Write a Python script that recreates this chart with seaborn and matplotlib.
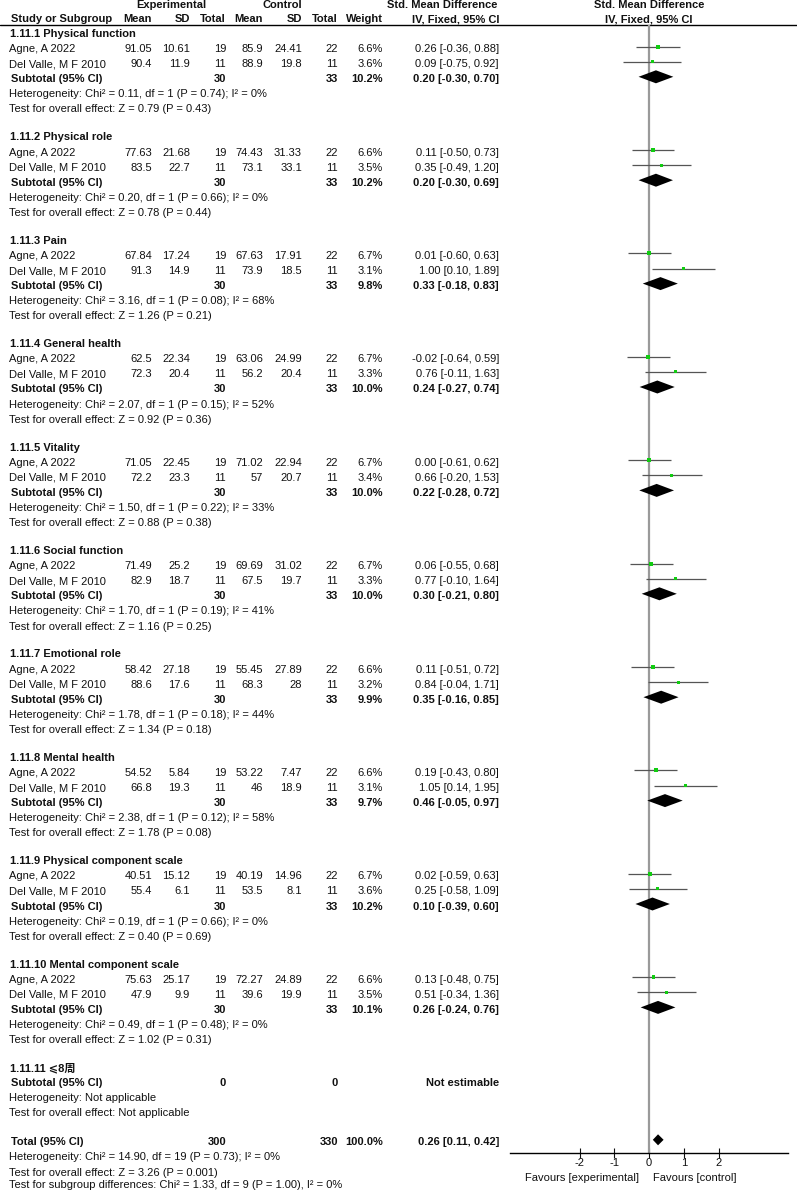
import matplotlib
matplotlib.use("Agg")
import matplotlib.pyplot as plt
import seaborn as sns
import pandas as pd
import numpy as np

# ---------------- data ----------------
sections = ["1.11.1 Physical function", "1.11.2 Physical role", "1.11.3 Pain",
            "1.11.4 General health", "1.11.5 Vitality", "1.11.6 Social function",
            "1.11.7 Emotional role", "1.11.8 Mental health",
            "1.11.9 Physical component scale", "1.11.10 Mental component scale"]
studies = ["Agne, A 2022", "Del Valle, M F 2010"]

exp_mean = [91.05, 90.4, 77.63, 83.5, 67.84, 91.3, 62.5, 72.3, 71.05, 72.2,
            71.49, 82.9, 58.42, 88.6, 54.52, 66.8, 40.51, 55.4, 75.63, 47.9]
exp_sd = [10.61, 11.9, 21.68, 22.7, 17.24, 14.9, 22.34, 20.4, 22.45, 23.3,
          25.2, 18.7, 27.18, 17.6, 5.84, 19.3, 15.12, 6.1, 25.17, 9.9]
exp_n = [19, 11] * 10
ctrl_mean = [85.9, 88.9, 74.43, 73.1, 67.63, 73.9, 63.06, 56.2, 71.02, 57,
             69.69, 67.5, 55.45, 68.3, 53.22, 46, 40.19, 53.5, 72.27, 39.6]
ctrl_sd = [24.41, 19.8, 31.33, 33.1, 17.91, 18.5, 24.99, 20.4, 22.94, 20.7,
           31.02, 19.7, 27.89, 28, 7.47, 18.9, 14.96, 8.1, 24.89, 19.9]
ctrl_n = [22, 11] * 10
weight = [6.6, 3.6, 6.6, 3.5, 6.7, 3.1, 6.7, 3.3, 6.7, 3.4,
          6.7, 3.3, 6.6, 3.2, 6.6, 3.1, 6.7, 3.6, 6.6, 3.5]
smd = [0.26, 0.09, 0.11, 0.35, 0.01, 1.00, -0.02, 0.76, 0.00, 0.66,
       0.06, 0.77, 0.11, 0.84, 0.19, 1.05, 0.02, 0.25, 0.13, 0.51]
ci_lo = [-0.36, -0.75, -0.50, -0.49, -0.60, 0.10, -0.64, -0.11, -0.61, -0.20,
         -0.55, -0.10, -0.51, -0.04, -0.43, 0.14, -0.59, -0.58, -0.48, -0.34]
ci_hi = [0.88, 0.92, 0.73, 1.20, 0.63, 1.89, 0.59, 1.63, 0.62, 1.53,
         0.68, 1.64, 0.72, 1.71, 0.80, 1.95, 0.63, 1.09, 0.75, 1.36]

sub_n_exp = [30] * 10
sub_n_ctrl = [33] * 10
sub_weight = [10.2, 10.2, 9.8, 10.0, 10.0, 10.0, 9.9, 9.7, 10.2, 10.1]
sub_smd = [0.20, 0.20, 0.33, 0.24, 0.22, 0.30, 0.35, 0.46, 0.10, 0.26]
sub_lo = [-0.30, -0.30, -0.18, -0.27, -0.28, -0.21, -0.16, -0.05, -0.39, -0.24]
sub_hi = [0.70, 0.69, 0.83, 0.74, 0.72, 0.80, 0.85, 0.97, 0.60, 0.76]
het_chi = [0.11, 0.20, 3.16, 2.07, 1.50, 1.70, 1.78, 2.38, 0.19, 0.49]
het_p = [0.74, 0.66, 0.08, 0.15, 0.22, 0.19, 0.18, 0.12, 0.66, 0.48]
het_i2 = [0, 0, 68, 52, 33, 41, 44, 58, 0, 0]
z_val = [0.79, 0.78, 1.26, 0.92, 0.88, 1.16, 1.34, 1.78, 0.40, 1.02]
z_p = [0.43, 0.44, 0.21, 0.36, 0.38, 0.25, 0.18, 0.08, 0.69, 0.31]

empty_section = "1.11.11 ⩽8周"

total_n_exp, total_n_ctrl, total_weight = 300, 330, 100.0
total_smd, total_lo, total_hi = 0.26, 0.11, 0.42
total_het = "Heterogeneity: Chi² = 14.90, df = 19 (P = 0.73); I² = 0%"
total_test = "Test for overall effect: Z = 3.26 (P = 0.001)"
subgroup_test = "Test for subgroup differences: Chi² = 1.33, df = 9 (P = 1.00), I² = 0%"

x_ticks = [-2, -1, 0, 1, 2]
favours = ["Favours [experimental]", "Favours [control]"]

# ---------------- style ----------------
sns.set_style("white")
plt.rcParams["font.family"] = ["Liberation Sans", "DejaVu Sans", "Noto Sans CJK SC"]
FS = 8
TXT = "#111111"

W, H = 797, 1190
fig = plt.figure(figsize=(W / 100, H / 100), dpi=100)
ax = fig.add_axes([0, 0, 1, 1])
ax.set_xlim(0, W)
ax.set_ylim(H, 0)
ax.axis("off")

def t(x, y, s, ha="left", bold=False, **kw):
    ax.text(x, y, s, ha=ha, va="center", fontsize=FS, color=TXT,
            fontweight="bold" if bold else "normal", **kw)

# column x (right-aligned)
X_EM, X_ESD, X_EN, X_CM, X_CSD, X_CN, X_W, X_CI = 152, 190, 226, 263, 302, 338, 383, 499
X_PLOT = 649

# header
t(171, 5, "Experimental", ha="center", bold=True)
t(282, 5, "Control", ha="center", bold=True)
t(497, 5, "Std. Mean Difference", ha="right", bold=True)
t(X_PLOT, 5, "Std. Mean Difference", ha="center", bold=True)
t(11, 19, "Study or Subgroup", bold=True)
for x, s in [(X_EM, "Mean"), (X_ESD, "SD"), (X_EN, "Total"), (X_CM, "Mean"),
             (X_CSD, "SD"), (X_CN, "Total"), (X_W, "Weight"), (X_CI + 1, "IV, Fixed, 95% CI")]:
    t(x, 19, s, ha="right", bold=True)
t(X_PLOT, 19, "IV, Fixed, 95% CI", ha="center", bold=True)
ax.axhline(25, color="black", lw=1.0)

# layout rows
Y0, PITCH, SEC = 34, 15.1, 103.4
study_y, sub_y = [], []
for k, name in enumerate(sections):
    y = Y0 + SEC * k
    t(10, y, name, bold=True)
    for j in range(2):
        i = 2 * k + j
        yy = y + PITCH * (j + 1)
        study_y.append(yy)
        t(9, yy, studies[j])
        t(X_EM, yy, f"{exp_mean[i]:g}", ha="right")
        t(X_ESD, yy, f"{exp_sd[i]:g}", ha="right")
        t(X_EN, yy, f"{exp_n[i]}", ha="right")
        t(X_CM, yy, f"{ctrl_mean[i]:g}", ha="right")
        t(X_CSD, yy, f"{ctrl_sd[i]:g}", ha="right")
        t(X_CN, yy, f"{ctrl_n[i]}", ha="right")
        t(X_W, yy, f"{weight[i]:.1f}%", ha="right")
        t(X_CI, yy, f"{smd[i]:.2f} [{ci_lo[i]:.2f}, {ci_hi[i]:.2f}]", ha="right")
    ys = y + PITCH * 3
    sub_y.append(ys)
    t(11, ys, "Subtotal (95% CI)", bold=True)
    t(X_EN, ys, f"{sub_n_exp[k]}", ha="right", bold=True)
    t(X_CN, ys, f"{sub_n_ctrl[k]}", ha="right", bold=True)
    t(X_W, ys, f"{sub_weight[k]:.1f}%", ha="right", bold=True)
    t(X_CI, ys, f"{sub_smd[k]:.2f} [{sub_lo[k]:.2f}, {sub_hi[k]:.2f}]", ha="right", bold=True)
    t(9, y + PITCH * 4, f"Heterogeneity: Chi² = {het_chi[k]:.2f}, df = 1 (P = {het_p[k]:.2f}); I² = {het_i2[k]}%")
    t(9, y + PITCH * 5, f"Test for overall effect: Z = {z_val[k]:.2f} (P = {z_p[k]:.2f})")

# empty section
y = Y0 + SEC * 10
t(10, y, empty_section, bold=True)
t(11, y + PITCH, "Subtotal (95% CI)", bold=True)
t(X_EN, y + PITCH, "0", ha="right", bold=True)
t(X_CN, y + PITCH, "0", ha="right", bold=True)
t(X_CI, y + PITCH, "Not estimable", ha="right", bold=True)
t(9, y + PITCH * 2, "Heterogeneity: Not applicable")
t(9, y + PITCH * 3, "Test for overall effect: Not applicable")

# total
yt = y + PITCH * 3 + 29
t(11, yt, "Total (95% CI)", bold=True)
t(X_EN, yt, f"{total_n_exp}", ha="right", bold=True)
t(X_CN, yt, f"{total_n_ctrl}", ha="right", bold=True)
t(X_W, yt, f"{total_weight:.1f}%", ha="right", bold=True)
t(X_CI, yt, f"{total_smd:.2f} [{total_lo:.2f}, {total_hi:.2f}]", ha="right", bold=True)
t(9, yt + PITCH, total_het)
t(9, yt + PITCH * 2, total_test)
t(9, yt + PITCH * 3 - 2.5, subgroup_test)

# ---------------- forest panel ----------------
PX0, PX1, PY0, PY1 = 510, 788, 25, 1153
fax = fig.add_axes([PX0 / W, (H - PY1) / H, (PX1 - PX0) / W, (PY1 - PY0) / H])
fax.set_xlim(-4, 4)
fax.set_ylim(PY1, PY0)
fax.patch.set_alpha(0)
for s in ["top", "left", "right"]:
    fax.spines[s].set_visible(False)
fax.spines["bottom"].set_color("black")
fax.spines["bottom"].set_linewidth(1.0)
fax.set_xticks(x_ticks)
fax.set_xticklabels([f"{v}" for v in x_ticks])
fax.set_yticks([])
fax.tick_params(axis="x", direction="inout", length=7, width=0.8, labelsize=FS,
                pad=0, colors=TXT, bottom=True)
fax.axvline(0, color="#9a9a9a", lw=1.6, zorder=1)

OFF = -2.5
df = pd.DataFrame({"smd": smd, "lo": ci_lo, "hi": ci_hi, "w": weight,
                   "y": np.array(study_y) + OFF})
fax.hlines(df["y"], df["lo"], df["hi"], color="#555555", lw=0.9, zorder=2)
sns.scatterplot(data=df, x="smd", y="y", size="w", sizes=(4.5, 8), marker="s",
                color="#11cc11", edgecolor="none", legend=False, ax=fax, zorder=3)

def diamond(est, lo, hi, yc, h):
    fax.fill([lo, est, hi, est], [yc, yc - h, yc, yc + h], color="black", lw=0, zorder=4)

for k in range(10):
    diamond(sub_smd[k], sub_lo[k], sub_hi[k], sub_y[k] + OFF, 6.5)
diamond(total_smd, total_lo, total_hi, yt + OFF, 5.5)

fax.set_xlabel("")
fax.set_ylabel("")

t(639, 1178, favours[0], ha="right")
t(653, 1178, favours[1], ha="left")

fig.savefig("out.png", dpi=100)
